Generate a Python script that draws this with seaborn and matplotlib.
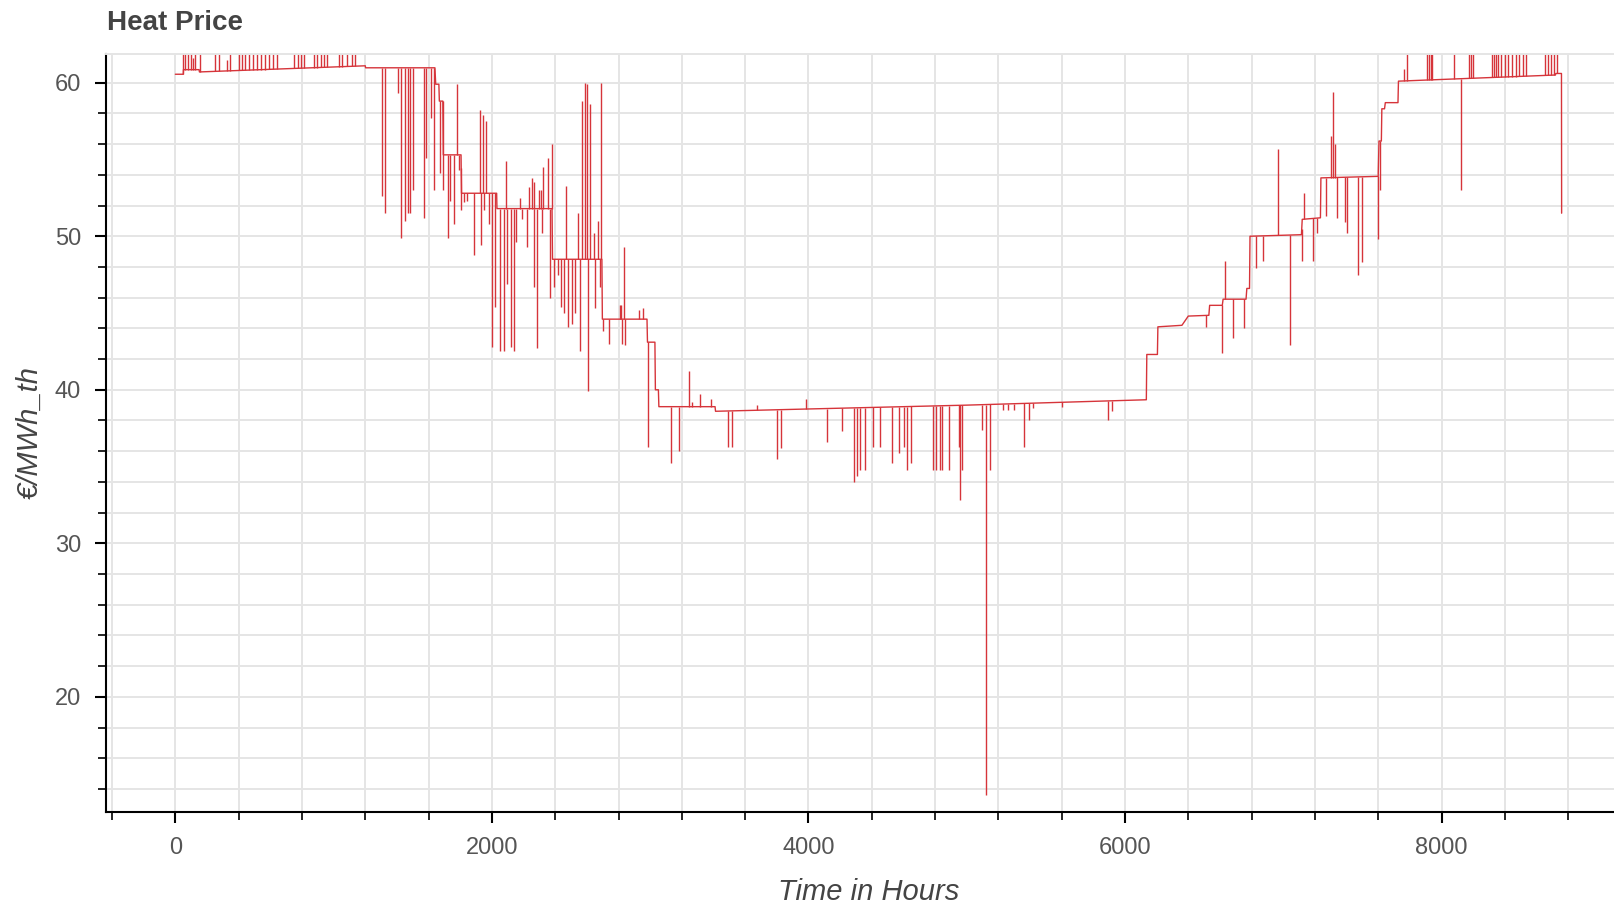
import numpy as np
import matplotlib
matplotlib.use("Agg")
import matplotlib.pyplot as plt
from matplotlib.ticker import MultipleLocator
import seaborn as sns

# --- Data ---
# baseline of the hourly heat price: vertices (hour, EUR/MWh_th)
base_hours = [0, 50, 51, 150, 152, 1200, 1202, 1640, 1645, 1665, 1668, 1690, 1693, 1805,
              1808, 2030, 2032, 2380, 2383, 2695, 2698, 2980, 2983, 3030, 3033, 3052,
              3055, 3410, 3413, 4000, 5000, 6135, 6138, 6205, 6208, 6360, 6380, 6400,
              6530, 6535, 6615, 6620, 6765, 6770, 6787, 6790, 7115, 7120, 7235, 7238,
              7600, 7605, 7620, 7623, 7640, 7645, 7725, 7728, 8720, 8722, 8758, 8759]
base_levels = [60.55, 60.55, 60.85, 60.85, 60.7, 61.1, 60.97, 60.97, 59.9, 59.9, 58.8, 58.8,
               55.3, 55.3, 52.8, 52.8, 51.8, 51.8, 48.5, 48.5, 44.6, 44.6, 43.1, 43.1,
               40.0, 40.0, 38.9, 38.9, 38.6, 38.75, 39.0, 39.35, 42.3, 42.3, 44.1, 44.2,
               44.5, 44.8, 44.85, 45.5, 45.5, 45.9, 45.9, 46.6, 46.6, 50.0, 50.1, 51.1,
               51.2, 53.8, 53.9, 56.2, 56.2, 58.3, 58.3, 58.7, 58.7, 60.1, 60.5, 60.6,
               60.6, 51.5]

# single-hour spikes away from the baseline: (hour, tip value)
spike_hours = [49, 61, 78, 99, 112, 126, 154, 253, 274, 327, 343, 400, 421, 442, 467, 493,
               518, 543, 568, 594, 619, 642, 752, 773, 794, 815, 878, 895, 920, 941, 958,
               1032, 1053, 1085, 1116, 1137,
               1305, 1326, 1404, 1425, 1448, 1469, 1484, 1501, 1568, 1585, 1615, 1636,
               1670, 1690, 1720, 1737, 1758, 1779, 1790, 1806,
               1825, 1842, 1884, 1922, 1930, 1943, 1951, 1964, 1983,
               2000, 2021, 2053, 2074, 2090, 2095, 2120, 2141, 2153, 2179, 2190, 2221,
               2232, 2253, 2263, 2267, 2284, 2295, 2310, 2316, 2326, 2352, 2364, 2379,
               2394, 2415, 2436, 2457, 2470, 2484, 2505, 2526, 2541, 2554, 2569, 2590,
               2600, 2607, 2617, 2642, 2653, 2668, 2680, 2689,
               2701, 2743, 2811, 2816, 2822, 2832, 2843, 2927, 2955, 2986,
               3131, 3180, 3243, 3264, 3313, 3386,
               3492, 3517, 3675, 3801, 3828, 3986, 4117, 4212, 4290, 4307, 4328, 4359,
               4408, 4454, 4528, 4570, 4601, 4622, 4648, 4787, 4808, 4829, 4844, 4886,
               4949, 4955, 4970, 5096, 5124, 5145, 5230, 5260, 5300, 5364, 5391, 5420,
               5602, 5892, 5917,
               6510, 6612, 6633, 6681, 6753, 6826, 6875, 6965, 7043, 7117, 7132, 7187,
               7212, 7269, 7303, 7314, 7326, 7337, 7390, 7404, 7474, 7497, 7600, 7609,
               7760, 7783, 7909, 7920, 7932, 7943, 8076, 8126, 8172, 8185, 8199, 8320,
               8332, 8343, 8354, 8377, 8400, 8422, 8445, 8468, 8490, 8513, 8537, 8651,
               8670, 8690, 8710, 8731]
spike_values = [62.5, 62.5, 62.5, 62.5, 61.6, 62.5, 62.5, 62.5, 62.5, 61.5, 62.5, 62.5,
                62.5, 62.5, 62.5, 62.5, 62.5, 62.5, 62.5, 62.5, 62.5, 62.5, 62.5, 62.5,
                62.5, 62.5, 62.5, 62.5, 62.5, 62.5, 62.5, 62.5, 62.5, 62.5, 62.5, 62.5,
                52.6, 51.5, 59.3, 49.9, 51.0, 51.5, 51.5, 53.0, 51.2, 55.1, 57.7, 53.0,
                54.1, 53.0, 49.9, 52.3, 50.8, 59.9, 54.3, 51.7,
                52.2, 52.3, 48.8, 58.2, 49.4, 57.9, 51.7, 57.5, 50.8,
                42.8, 45.4, 42.5, 42.5, 54.9, 46.9, 42.8, 42.5, 49.6, 52.5, 51.1, 49.3,
                53.2, 53.8, 46.7, 53.5, 42.7, 53.0, 53.0, 50.2, 54.5, 55.1, 46.0, 56.0,
                46.7, 47.5, 45.4, 45.0, 53.3, 44.1, 44.3, 45.0, 51.5, 42.5, 58.8, 60.0,
                59.9, 39.9, 58.6, 50.2, 45.3, 51.0, 46.7, 60.0,
                43.8, 43.0, 45.5, 45.5, 43.0, 49.3, 42.9, 45.2, 45.3, 36.3,
                35.2, 36.0, 41.2, 39.2, 39.7, 39.4,
                36.25, 36.25, 39.0, 35.5, 36.2, 39.4, 36.6, 37.3, 34.0, 34.4, 34.8, 34.8,
                36.3, 36.3, 35.2, 35.9, 36.3, 34.8, 35.2, 34.8, 34.8, 34.8, 34.8, 34.8,
                36.3, 32.8, 34.8, 37.4, 13.6, 34.8, 38.7, 38.7, 38.7, 36.3, 38.0, 38.8,
                38.9, 38.0, 38.6,
                44.1, 42.4, 48.4, 43.4, 44.0, 47.9, 48.4, 55.7, 42.9, 48.4, 52.8, 48.4,
                50.2, 51.3, 56.5, 59.4, 56.0, 51.2, 50.9, 50.2, 47.5, 48.3, 49.8, 53.0,
                60.9, 62.5, 62.5, 62.5, 62.5, 62.5, 62.5, 53.0, 62.5, 62.5, 62.5, 62.5,
                62.5, 62.5, 62.5, 62.5, 62.5, 62.5, 62.5, 62.5, 62.5, 62.5, 62.5, 62.5,
                62.5, 62.5, 62.5, 62.5]

title = "Heat Price"
x_label = "Time in Hours"
y_label = "€/MWh_th"

# --- Style ---
sns.set_theme(style="white")
plt.rcParams["font.family"] = ["Liberation Sans", "DejaVu Sans"]

line_color = "#d6343a"
grid_color = "#e5e5e5"
text_color = "#444444"

fig = plt.figure(figsize=(16.14, 9.07), dpi=100)
ax = fig.add_axes([0.0657, 0.1047, 0.9449, 0.8363])

# baseline and spikes (spikes hang off the baseline at their hour)
sns.lineplot(x=base_hours, y=base_levels, sort=False, estimator=None,
             color=line_color, linewidth=1.0, ax=ax)
spike_roots = np.interp(spike_hours, base_hours, base_levels)
ax.vlines(spike_hours, spike_roots, spike_values, color=line_color, linewidth=1.0)

ax.set_xlim(-438, 9198)
ax.set_ylim(12.5, 61.9)

ax.xaxis.set_major_locator(MultipleLocator(2000))
ax.xaxis.set_minor_locator(MultipleLocator(400))
ax.yaxis.set_major_locator(MultipleLocator(10))
ax.yaxis.set_minor_locator(MultipleLocator(2))

ax.grid(which="both", color=grid_color, linewidth=1.4)
ax.set_axisbelow(True)

for side in ["left", "bottom"]:
    ax.spines[side].set_color("black")
    ax.spines[side].set_linewidth(1.5)
ax.spines["top"].set_color(grid_color)
ax.spines["top"].set_linewidth(1.4)
ax.spines["right"].set_visible(False)

ax.tick_params(which="major", direction="out", length=8, width=1.5, color="black",
               labelsize=17, labelcolor="#555555", pad=10,
               bottom=True, left=True)
ax.tick_params(which="minor", direction="out", length=5.5, width=1.2, color="black",
               bottom=True, left=True)

ax.set_xlabel(x_label, fontsize=21, style="italic", color=text_color, labelpad=14)
ax.set_ylabel(y_label, fontsize=21, style="italic", color=text_color, labelpad=8)

fig.text(0.0663, 0.975, title, fontsize=20, fontweight="bold", color=text_color,
         ha="left", va="center")

fig.savefig("out.png", dpi=100)
